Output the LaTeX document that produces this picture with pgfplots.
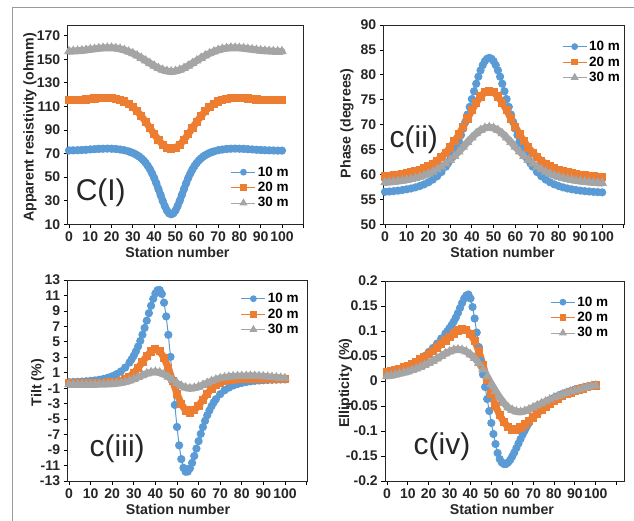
\documentclass[border=0pt]{standalone}
\usepackage{fontspec}
\setmainfont{Liberation Sans}
\usepackage{pgfplots}
\usepackage{pgfplotstable}
\pgfplotsset{compat=1.18}
\definecolor{cblue}{HTML}{5B9BD5}
\definecolor{corange}{HTML}{ED7D31}
\definecolor{cgray}{HTML}{A5A5A5}
\tikzset{lab/.style={font=\fontsize{30}{30}\selectfont, text=black!85}}
\pgfplotsset{
  panel/.style={
    scale only axis,
    xmin=-0.6, xmax=110.2,
    xtick={0,10,...,110},
    xticklabels={0,10,20,30,40,50,60,70,80,90,100,{}},
    tick align=outside,
    tick pos=left,
    major tick length=4pt,
    every tick/.style={black, line width=0.8pt},
    axis line style={black!85, line width=0.9pt},
    ticklabel style={font=\fontsize{14}{14}\selectfont\bfseries, text=black!85},
    /pgf/number format/assume math mode=true,
    label style={font=\fontsize{14.2}{16}\selectfont\bfseries, text=black!85},
    xlabel={Station number},
    legend cell align=left,
    legend style={draw=none, fill=none, font=\fontsize{13.5}{13.5}\selectfont\bfseries, anchor=north west, inner sep=0pt, row sep=0.5pt},
    legend image code/.code={\draw[mark repeat=2,mark phase=2,mark options={scale=0.8}] plot coordinates {(0pt,0pt) (12pt,0pt) (24pt,0pt)};},
  },
  sb/.style={color=cblue, mark=*, mark size=3.6pt, line width=1pt},
  so/.style={color=corange, mark=square*, mark size=3.6pt, line width=1pt},
  sg/.style={color=cgray, mark=triangle*, mark size=4.6pt, line width=1pt},
  bb/.style={color=cblue, no markers, line width=7pt, line join=round, line cap=round, forget plot},
  bo/.style={color=corange, no markers, line width=7pt, line join=round, line cap=round, forget plot},
  bg/.style={color=cgray, no markers, line width=7pt, line join=round, line cap=round, forget plot},
}
% ---- c(I) apparent resistivity ----
\pgfplotstableread[row sep=\\]{x y\\ 0 72.6\\ 2 72.7\\ 4 72.8\\ 6 73.0\\ 8 73.2\\ 10 73.5\\ 12 73.7\\ 14 74.0\\ 16 74.1\\ 18 74.2\\ 20 74.1\\ 22 73.9\\ 24 73.4\\ 26 72.8\\ 28 71.8\\ 29 71.2\\ 30 70.5\\ 31 69.6\\ 32 68.6\\ 33 67.4\\ 34 65.9\\ 35 64.2\\ 36 62.1\\ 37 59.6\\ 38 56.7\\ 39 53.2\\ 40 49.3\\ 41 44.8\\ 42 39.9\\ 43 34.9\\ 44 29.9\\ 45 25.4\\ 46 21.7\\ 47 19.3\\ 48 18.5\\ 49 19.3\\ 50 21.7\\ 51 25.4\\ 52 29.9\\ 53 34.9\\ 54 39.9\\ 55 44.8\\ 56 49.3\\ 57 53.2\\ 58 56.7\\ 59 59.6\\ 60 62.1\\ 61 64.2\\ 62 65.9\\ 63 67.4\\ 64 68.6\\ 65 69.6\\ 66 70.5\\ 67 71.2\\ 68 71.8\\ 70 72.8\\ 72 73.4\\ 74 73.9\\ 76 74.1\\ 78 74.2\\ 80 74.1\\ 82 74.0\\ 84 73.7\\ 86 73.5\\ 88 73.2\\ 90 73.0\\ 92 72.8\\ 94 72.7\\ 96 72.6\\ 98 72.5\\ 100 72.5\\}\Ab
\pgfplotstableread[row sep=\\]{x y\\ 0 115.2\\ 2 115.3\\ 4 115.4\\ 6 115.6\\ 8 115.9\\ 10 116.3\\ 12 116.6\\ 14 117.0\\ 16 117.1\\ 18 117.2\\ 20 117.0\\ 22 116.5\\ 24 115.5\\ 26 114.2\\ 28 112.1\\ 30 109.5\\ 32 106.0\\ 34 101.7\\ 36 97.0\\ 38 91.7\\ 40 86.5\\ 42 81.5\\ 44 77.5\\ 46 74.9\\ 48 74.0\\ 50 74.9\\ 52 77.5\\ 54 81.5\\ 56 86.5\\ 58 91.7\\ 60 97.0\\ 62 101.7\\ 64 106.0\\ 66 109.5\\ 68 112.1\\ 70 114.2\\ 72 115.5\\ 74 116.5\\ 76 117.0\\ 78 117.2\\ 80 117.1\\ 82 117.0\\ 84 116.6\\ 86 116.3\\ 88 115.9\\ 90 115.6\\ 92 115.4\\ 94 115.3\\ 96 115.2\\ 98 115.1\\ 100 115.1\\}\Ao
\pgfplotstableread[row sep=\\]{x y\\ 0 156.7\\ 2 156.9\\ 4 157.1\\ 6 157.4\\ 8 157.8\\ 10 158.3\\ 12 158.7\\ 14 159.2\\ 16 159.5\\ 18 159.7\\ 20 159.7\\ 22 159.3\\ 24 158.7\\ 26 157.7\\ 28 156.4\\ 30 154.9\\ 32 153.1\\ 34 151.0\\ 36 148.8\\ 38 146.6\\ 40 144.4\\ 42 142.4\\ 44 140.9\\ 46 139.9\\ 48 139.5\\ 50 139.9\\ 52 140.9\\ 54 142.4\\ 56 144.4\\ 58 146.6\\ 60 148.8\\ 62 151.0\\ 64 153.1\\ 66 154.9\\ 68 156.4\\ 70 157.7\\ 72 158.7\\ 74 159.3\\ 76 159.7\\ 78 159.7\\ 80 159.5\\ 82 159.2\\ 84 158.7\\ 86 158.3\\ 88 157.8\\ 90 157.4\\ 92 157.1\\ 94 156.9\\ 96 156.7\\ 98 156.6\\ 100 156.6\\}\Ag
% ---- c(ii) phase ----
\pgfplotstableread[row sep=\\]{x y\\ 0 56.51\\ 2 56.58\\ 4 56.66\\ 6 56.76\\ 8 56.88\\ 10 57.02\\ 12 57.19\\ 14 57.41\\ 16 57.68\\ 18 58.01\\ 20 58.43\\ 22 58.97\\ 24 59.64\\ 26 60.49\\ 28 61.57\\ 29 62.21\\ 30 62.93\\ 31 63.73\\ 32 64.62\\ 33 65.61\\ 34 66.70\\ 35 67.89\\ 36 69.18\\ 37 70.57\\ 38 72.04\\ 39 73.57\\ 40 75.13\\ 41 76.70\\ 42 78.21\\ 43 79.63\\ 44 80.89\\ 45 81.94\\ 46 82.74\\ 47 83.23\\ 48 83.40\\ 49 83.23\\ 50 82.74\\ 51 81.94\\ 52 80.89\\ 53 79.63\\ 54 78.21\\ 55 76.70\\ 56 75.13\\ 57 73.57\\ 58 72.04\\ 59 70.57\\ 60 69.18\\ 61 67.89\\ 62 66.70\\ 63 65.61\\ 64 64.62\\ 65 63.73\\ 66 62.93\\ 67 62.21\\ 68 61.57\\ 70 60.49\\ 72 59.64\\ 74 58.97\\ 76 58.43\\ 78 58.01\\ 80 57.68\\ 82 57.41\\ 84 57.19\\ 86 57.02\\ 88 56.88\\ 90 56.76\\ 92 56.66\\ 94 56.58\\ 96 56.51\\ 98 56.46\\ 100 56.41\\}\Bb
\pgfplotstableread[row sep=\\]{x y\\ 0 59.60\\ 2 59.68\\ 4 59.78\\ 6 59.89\\ 8 60.02\\ 10 60.19\\ 12 60.38\\ 14 60.61\\ 16 60.89\\ 18 61.23\\ 20 61.65\\ 22 62.15\\ 24 62.76\\ 26 63.50\\ 28 64.38\\ 30 65.42\\ 32 66.64\\ 34 68.04\\ 36 69.58\\ 38 71.23\\ 40 72.88\\ 42 74.40\\ 44 75.66\\ 46 76.48\\ 48 76.77\\ 50 76.48\\ 52 75.66\\ 54 74.40\\ 56 72.88\\ 58 71.23\\ 60 69.58\\ 62 68.04\\ 64 66.64\\ 66 65.42\\ 68 64.38\\ 70 63.50\\ 72 62.76\\ 74 62.15\\ 76 61.65\\ 78 61.23\\ 80 60.89\\ 82 60.61\\ 84 60.38\\ 86 60.19\\ 88 60.02\\ 90 59.89\\ 92 59.78\\ 94 59.68\\ 96 59.60\\ 98 59.54\\ 100 59.48\\}\Bo
\pgfplotstableread[row sep=\\]{x y\\ 0 58.40\\ 2 58.47\\ 4 58.56\\ 6 58.66\\ 8 58.79\\ 10 58.93\\ 12 59.10\\ 14 59.30\\ 16 59.54\\ 18 59.82\\ 20 60.15\\ 22 60.55\\ 24 61.01\\ 26 61.55\\ 28 62.18\\ 30 62.90\\ 32 63.71\\ 34 64.59\\ 36 65.53\\ 38 66.49\\ 40 67.41\\ 42 68.24\\ 44 68.90\\ 46 69.32\\ 48 69.47\\ 50 69.32\\ 52 68.90\\ 54 68.24\\ 56 67.41\\ 58 66.49\\ 60 65.53\\ 62 64.59\\ 64 63.71\\ 66 62.90\\ 68 62.18\\ 70 61.55\\ 72 61.01\\ 74 60.55\\ 76 60.15\\ 78 59.82\\ 80 59.54\\ 82 59.30\\ 84 59.10\\ 86 58.93\\ 88 58.79\\ 90 58.66\\ 92 58.56\\ 94 58.47\\ 96 58.40\\ 98 58.33\\ 100 58.28\\}\Bg
% ---- c(iii) tilt ----
\pgfplotstableread[row sep=\\]{x y\\ 0 -0.21\\ 2 -0.19\\ 4 -0.17\\ 6 -0.14\\ 8 -0.10\\ 10 -0.05\\ 12 0.01\\ 14 0.10\\ 16 0.21\\ 18 0.36\\ 20 0.55\\ 22 0.82\\ 24 1.17\\ 26 1.67\\ 28 2.32\\ 29 2.74\\ 30 3.22\\ 31 3.78\\ 32 4.40\\ 33 5.12\\ 34 5.92\\ 35 6.80\\ 36 7.74\\ 37 8.71\\ 38 9.67\\ 39 10.56\\ 40 11.26\\ 41 11.68\\ 42 11.70\\ 43 11.19\\ 44 10.07\\ 45 8.29\\ 46 5.91\\ 47 3.06\\ 48 -0.05\\ 49 -3.16\\ 50 -6.01\\ 51 -8.39\\ 52 -10.17\\ 53 -11.29\\ 54 -11.80\\ 55 -11.78\\ 56 -11.36\\ 57 -10.66\\ 58 -9.77\\ 59 -8.81\\ 60 -7.84\\ 61 -6.90\\ 62 -6.02\\ 63 -5.22\\ 64 -4.50\\ 65 -3.88\\ 66 -3.32\\ 67 -2.84\\ 68 -2.42\\ 70 -1.77\\ 72 -1.27\\ 74 -0.92\\ 76 -0.65\\ 78 -0.46\\ 80 -0.31\\ 82 -0.20\\ 84 -0.11\\ 86 -0.05\\ 88 0.00\\ 90 0.04\\ 92 0.07\\ 94 0.09\\ 96 0.11\\ 98 0.13\\ 100 0.14\\}\Cb
\pgfplotstableread[row sep=\\]{x y\\ 0 -0.30\\ 2 -0.30\\ 4 -0.30\\ 6 -0.30\\ 8 -0.30\\ 10 -0.30\\ 12 -0.30\\ 14 -0.30\\ 16 -0.29\\ 18 -0.27\\ 20 -0.24\\ 22 -0.17\\ 24 -0.05\\ 26 0.16\\ 28 0.49\\ 30 0.98\\ 32 1.62\\ 34 2.39\\ 36 3.15\\ 38 3.76\\ 40 4.03\\ 42 3.78\\ 44 2.95\\ 46 1.60\\ 48 -0.05\\ 50 -1.70\\ 52 -3.05\\ 54 -3.88\\ 56 -4.13\\ 58 -3.86\\ 60 -3.25\\ 62 -2.49\\ 64 -1.72\\ 66 -1.08\\ 68 -0.59\\ 70 -0.26\\ 72 -0.05\\ 74 0.07\\ 76 0.14\\ 78 0.17\\ 80 0.19\\ 82 0.19\\ 84 0.20\\ 86 0.20\\ 88 0.20\\ 90 0.20\\ 92 0.20\\ 94 0.20\\ 96 0.20\\ 98 0.20\\ 100 0.20\\}\Co
\pgfplotstableread[row sep=\\]{x y\\ 0 -0.50\\ 2 -0.50\\ 4 -0.50\\ 6 -0.50\\ 8 -0.50\\ 10 -0.49\\ 12 -0.49\\ 14 -0.48\\ 16 -0.47\\ 18 -0.45\\ 20 -0.42\\ 22 -0.37\\ 24 -0.29\\ 26 -0.17\\ 28 -0.01\\ 30 0.19\\ 32 0.43\\ 34 0.68\\ 36 0.91\\ 38 1.06\\ 40 1.12\\ 42 1.03\\ 44 0.80\\ 46 0.46\\ 48 0.05\\ 50 -0.36\\ 52 -0.70\\ 54 -0.93\\ 56 -1.02\\ 58 -0.96\\ 60 -0.81\\ 62 -0.58\\ 64 -0.33\\ 66 -0.09\\ 68 0.11\\ 70 0.27\\ 72 0.39\\ 74 0.47\\ 76 0.52\\ 78 0.55\\ 80 0.57\\ 82 0.58\\ 84 0.59\\ 86 0.58\\ 88 0.56\\ 90 0.52\\ 92 0.48\\ 94 0.43\\ 96 0.38\\ 98 0.33\\ 100 0.28\\}\Cg
% ---- c(iv) ellipticity ----
\pgfplotstableread[row sep=\\]{x y\\ 0 0.015\\ 2 0.017\\ 4 0.019\\ 6 0.021\\ 8 0.024\\ 10 0.028\\ 12 0.032\\ 14 0.037\\ 16 0.043\\ 18 0.050\\ 20 0.058\\ 22 0.066\\ 24 0.075\\ 26 0.085\\ 28 0.095\\ 29 0.100\\ 30 0.106\\ 31 0.112\\ 32 0.119\\ 33 0.127\\ 34 0.136\\ 35 0.146\\ 36 0.156\\ 37 0.165\\ 38 0.171\\ 39 0.173\\ 40 0.165\\ 41 0.148\\ 42 0.125\\ 43 0.097\\ 44 0.068\\ 45 0.040\\ 46 0.013\\ 47 -0.012\\ 48 -0.036\\ 49 -0.060\\ 50 -0.084\\ 51 -0.106\\ 52 -0.126\\ 53 -0.144\\ 54 -0.156\\ 55 -0.163\\ 56 -0.166\\ 57 -0.166\\ 58 -0.163\\ 59 -0.158\\ 60 -0.151\\ 61 -0.143\\ 62 -0.134\\ 63 -0.125\\ 64 -0.116\\ 65 -0.107\\ 66 -0.099\\ 67 -0.091\\ 68 -0.084\\ 70 -0.072\\ 72 -0.062\\ 74 -0.053\\ 76 -0.046\\ 78 -0.040\\ 80 -0.035\\ 82 -0.030\\ 84 -0.026\\ 86 -0.023\\ 88 -0.020\\ 90 -0.017\\ 92 -0.015\\ 94 -0.013\\ 96 -0.011\\ 98 -0.010\\ 100 -0.008\\}\Db
\pgfplotstableread[row sep=\\]{x y\\ 0 0.017\\ 2 0.019\\ 4 0.021\\ 6 0.024\\ 8 0.027\\ 10 0.030\\ 12 0.034\\ 14 0.038\\ 16 0.043\\ 18 0.048\\ 20 0.054\\ 22 0.060\\ 24 0.067\\ 26 0.074\\ 28 0.081\\ 30 0.088\\ 32 0.095\\ 34 0.101\\ 36 0.104\\ 38 0.102\\ 40 0.094\\ 42 0.080\\ 44 0.060\\ 46 0.032\\ 48 0.002\\ 50 -0.026\\ 52 -0.050\\ 54 -0.068\\ 56 -0.082\\ 58 -0.092\\ 60 -0.097\\ 62 -0.097\\ 64 -0.093\\ 66 -0.087\\ 68 -0.080\\ 70 -0.073\\ 72 -0.065\\ 74 -0.058\\ 76 -0.051\\ 78 -0.045\\ 80 -0.040\\ 82 -0.035\\ 84 -0.030\\ 86 -0.026\\ 88 -0.023\\ 90 -0.020\\ 92 -0.017\\ 94 -0.015\\ 96 -0.012\\ 98 -0.010\\ 100 -0.009\\}\Do
\pgfplotstableread[row sep=\\]{x y\\ 0 0.010\\ 2 0.011\\ 4 0.013\\ 6 0.015\\ 8 0.017\\ 10 0.019\\ 12 0.022\\ 14 0.025\\ 16 0.028\\ 18 0.032\\ 20 0.036\\ 22 0.040\\ 24 0.045\\ 26 0.050\\ 28 0.055\\ 30 0.059\\ 32 0.062\\ 34 0.063\\ 36 0.062\\ 38 0.059\\ 40 0.053\\ 42 0.046\\ 44 0.036\\ 46 0.023\\ 48 0.009\\ 50 -0.006\\ 52 -0.020\\ 54 -0.033\\ 56 -0.044\\ 58 -0.053\\ 60 -0.058\\ 62 -0.061\\ 64 -0.062\\ 66 -0.060\\ 68 -0.057\\ 70 -0.053\\ 72 -0.049\\ 74 -0.045\\ 76 -0.041\\ 78 -0.037\\ 80 -0.033\\ 82 -0.030\\ 84 -0.027\\ 86 -0.024\\ 88 -0.021\\ 90 -0.019\\ 92 -0.017\\ 94 -0.014\\ 96 -0.012\\ 98 -0.010\\ 100 -0.009\\}\Dg
\begin{document}
\begin{tikzpicture}
\useasboundingbox (0pt,0pt) rectangle (634pt,-521pt);
\draw[color=gray!80, line width=1pt] (12pt,-521pt) -- (12pt,-8pt) -- (634pt,-8pt);

% ---------------- c(I) ----------------
\begin{axis}[panel, at={(67.7pt,-224.3pt)}, anchor=south west, width=236pt, height=199.3pt,
  ymin=10, ymax=179, ytick={10,30,...,170},
  ylabel={Apparent resistivity (ohmm)},
  ylabel style={at={(axis description cs:-0.16,0.486)}, anchor=center},
  xlabel style={at={(axis description cs:0.465,-0.143)}, anchor=center},
  legend style={at={(axis description cs:0.691,0.30)}}]
\addplot[bb] table {\Ab};
\addplot[sb] table {\Ab};
\addplot[bo] table {\Ao};
\addplot[so] table {\Ao};
\addplot[bg] table {\Ag};
\addplot[sg] table {\Ag};
\legend{10 m,20 m,30 m}
\node[lab] at (rel axis cs:0.14,0.156) {C(I)};
\end{axis}

% ---------------- c(ii) ----------------
\begin{axis}[panel, at={(383.7pt,-224.3pt)}, anchor=south west, width=240.6pt, height=199.3pt,
  ymin=50, ymax=90, ytick={50,55,...,90},
  ylabel={Phase (degrees)},
  ylabel style={at={(axis description cs:-0.1525,0.507)}, anchor=center},
  xlabel style={at={(axis description cs:0.494,-0.143)}, anchor=center},
  legend style={at={(axis description cs:0.741,0.93)}}]
\addplot[sb] table {\Bb};
\addplot[bo] table {\Bo};
\addplot[so] table {\Bo};
\addplot[bg] table {\Bg};
\addplot[sg] table {\Bg};
\legend{10 m,20 m,30 m}
\node[lab] at (rel axis cs:0.125,0.423) {c(ii)};
\end{axis}

% ---------------- c(iii) ----------------
\begin{axis}[panel, at={(67.7pt,-481pt)}, anchor=south west, width=239.3pt, height=201pt,
  ymin=-13, ymax=13, ytick={-13,-11,...,13},
  yticklabels={-13,-11,-9,-7,-5,-3,-1,1,3,5,7,9,11,13},
  ylabel={Tilt (\%)},
  ylabel style={at={(axis description cs:-0.125,0.49)}, anchor=center},
  xlabel style={at={(axis description cs:0.461,-0.142)}, anchor=center},
  legend style={at={(axis description cs:0.723,0.945)}}]
\addplot[sb] table {\Cb};
\addplot[bo] table {\Co};
\addplot[so] table {\Co};
\addplot[bg] table {\Cg};
\addplot[sg] table {\Cg};
\legend{10 m,20 m,30 m}
\node[lab] at (rel axis cs:0.207,0.163) {c(iii)};
\end{axis}

% ---------------- c(iv) ----------------
\begin{axis}[panel, at={(385.3pt,-481pt)}, anchor=south west, width=239pt, height=200pt,
  xmin=-0.8, xmax=113.7,
  ymin=-0.2, ymax=0.2, ytick={-0.2,-0.15,-0.1,-0.05,0,0.05,0.1,0.15,0.2},
  yticklabels={-0.2,-0.15,-0.1,-0.05,0,0.05,0.1,0.15,0.2},
  ylabel={Ellipticity (\%)},
  ylabel style={at={(axis description cs:-0.167,0.489)}, anchor=center},
  xlabel style={at={(axis description cs:0.488,-0.1425)}, anchor=center},
  legend style={at={(axis description cs:0.69,0.9325)}}]
\addplot[sb] table {\Db};
\addplot[bo] table {\Do};
\addplot[so] table {\Do};
\addplot[bg] table {\Dg};
\addplot[sg] table {\Dg};
\legend{10 m,20 m,30 m}
\node[lab] at (rel axis cs:0.237,0.1715) {c(iv)};
\end{axis}
\end{tikzpicture}
\end{document}
